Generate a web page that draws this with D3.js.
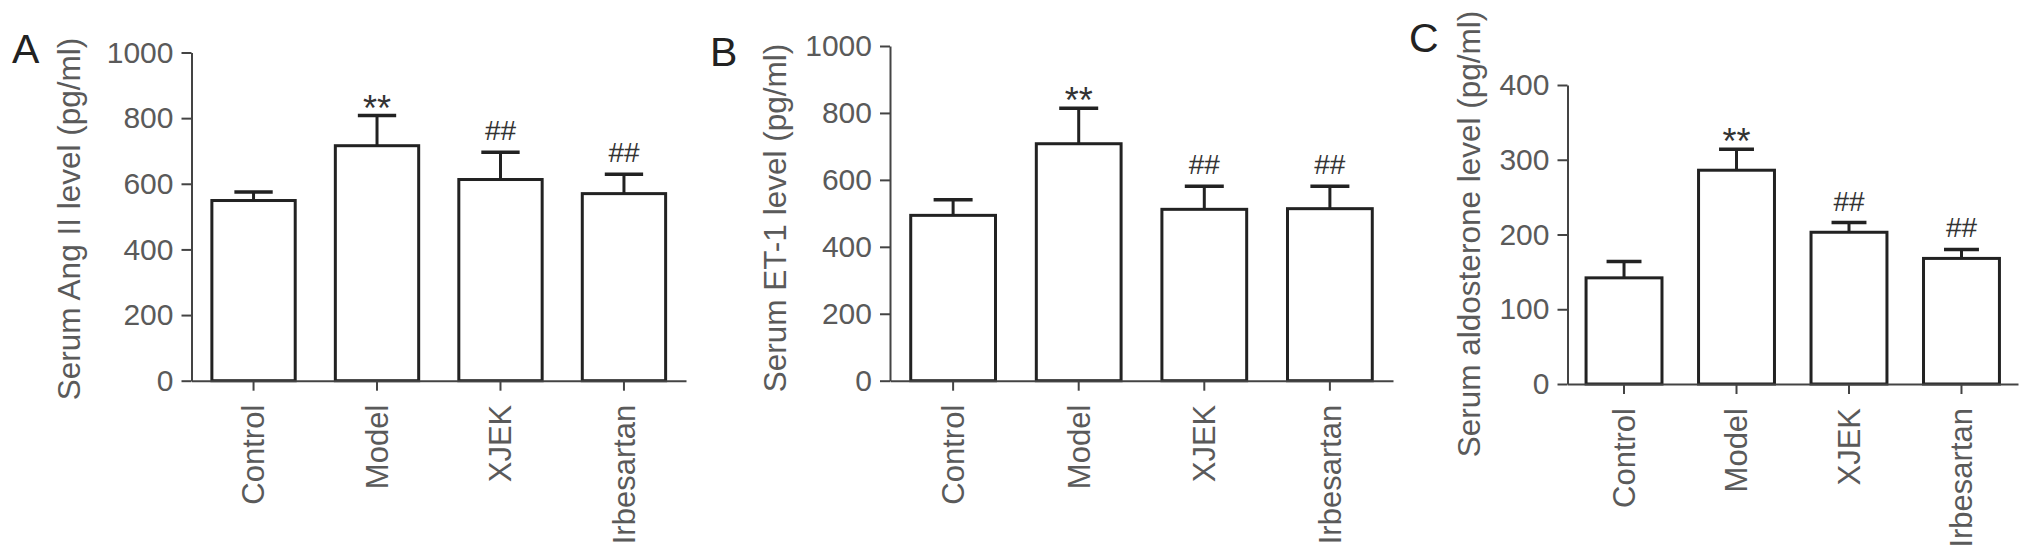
<!DOCTYPE html>
<html>
<head>
<meta charset="utf-8">
<title>Serum Ang II, ET-1 and aldosterone levels</title>
<script src="https://d3js.org/d3.v7.min.js"></script>
<style>
  body { margin: 0; background: #fff; }
  text { font-family: "Liberation Sans", Arial, sans-serif; }
  .axis path, .axis line { stroke: #444; stroke-width: 2; }
  .axis text { fill: #5a5a5a; font-size: 30px; }
</style>
</head>
<body>
<div id="chart"></div>
<script>
// groups on the x axis
var groups = ["Control", "Model", "XJEK", "Irbesartan"];
var marks = ["", "**", "##", "##"];

// panel A: serum Ang II (pg/ml)
var angMean = [549, 716, 613, 570];
var angSem  = [26, 92, 83, 59];
var angTicks = [0, 200, 400, 600, 800, 1000];

// panel B: serum ET-1 (pg/ml)
var etMean = [494, 708, 512, 514];
var etSem  = [47, 106, 69, 67];
var etTicks = [0, 200, 400, 600, 800, 1000];

// panel C: serum aldosterone (pg/ml)
var aldoMean = [142, 286, 203, 168];
var aldoSem  = [22, 28, 13, 12];
var aldoTicks = [0, 100, 200, 300, 400];

var svg = d3.select("#chart").append("svg")
  .attr("width", 2032)
  .attr("height", 558);

// layout of each panel (pixels)
var panels = [
  {letter: "A", mean: angMean, sem: angSem, ticks: angTicks, max: 1000,
   title: "Serum Ang II level (pg/ml)",
   x0: 191.5, x1: 686, y0: 380.7, y1: 52.5, titleX: 69, titleY: 219, letterX: 12, letterY: 63},
  {letter: "B", mean: etMean, sem: etSem, ticks: etTicks, max: 1000,
   title: "Serum ET-1 level (pg/ml)",
   x0: 890, x1: 1393, y0: 380.7, y1: 46, titleX: 775, titleY: 218, letterX: 710, letterY: 66},
  {letter: "C", mean: aldoMean, sem: aldoSem, ticks: aldoTicks, max: 400,
   title: "Serum aldosterone level (pg/ml)",
   x0: 1567.5, x1: 2018, y0: 384, y1: 85, titleX: 1469, titleY: 234, letterX: 1409, letterY: 52}
];

panels.forEach(function(p) {
  var g = svg.append("g");

  var x = d3.scaleBand()
    .domain(groups)
    .range([p.x0, p.x1])
    .paddingInner(0.325)
    .paddingOuter(0.165);

  var y = d3.scaleLinear()
    .domain([0, p.max])
    .range([p.y0, p.y1]);

  var rows = groups.map(function(d, i) {
    return {name: d, mean: p.mean[i], sem: p.sem[i], mark: marks[i]};
  });

  // bars
  g.selectAll(".bar").data(rows).enter().append("rect")
    .attr("class", "bar")
    .attr("x", function(d) { return x(d.name); })
    .attr("y", function(d) { return y(d.mean); })
    .attr("width", x.bandwidth())
    .attr("height", function(d) { return y(0) - y(d.mean); })
    .attr("fill", "#fff")
    .attr("stroke", "#222")
    .attr("stroke-width", 3);

  // upper error bars
  var capW = x.bandwidth() * 0.46;
  var err = g.selectAll(".err").data(rows).enter().append("g").attr("class", "err");
  err.append("line")
    .attr("x1", function(d) { return x(d.name) + x.bandwidth() / 2; })
    .attr("x2", function(d) { return x(d.name) + x.bandwidth() / 2; })
    .attr("y1", function(d) { return y(d.mean); })
    .attr("y2", function(d) { return y(d.mean + d.sem); })
    .attr("stroke", "#222").attr("stroke-width", 3);
  err.append("line")
    .attr("x1", function(d) { return x(d.name) + x.bandwidth() / 2 - capW / 2; })
    .attr("x2", function(d) { return x(d.name) + x.bandwidth() / 2 + capW / 2; })
    .attr("y1", function(d) { return y(d.mean + d.sem); })
    .attr("y2", function(d) { return y(d.mean + d.sem); })
    .attr("stroke", "#222").attr("stroke-width", 3.5);

  // significance marks
  g.selectAll(".mark").data(rows).enter().append("text")
    .attr("class", "mark")
    .attr("x", function(d) { return x(d.name) + x.bandwidth() / 2; })
    .attr("y", function(d) {
      return y(d.mean + d.sem) + (d.mark == "**" ? 5 : -12);
    })
    .attr("text-anchor", "middle")
    .attr("fill", "#333")
    .style("font-size", function(d) { return d.mark == "**" ? "36px" : "28px"; })
    .text(function(d) { return d.mark; });

  // y axis
  g.append("g")
    .attr("class", "axis")
    .attr("transform", "translate(" + p.x0 + ",0)")
    .call(d3.axisLeft(y).tickValues(p.ticks).tickFormat(d3.format("d"))
      .tickSize(10).tickSizeOuter(0).tickPadding(8));

  // x axis
  var xa = g.append("g")
    .attr("class", "axis")
    .attr("transform", "translate(0," + p.y0 + ")")
    .call(d3.axisBottom(x).tickSize(10).tickSizeOuter(0));
  xa.selectAll("text")
    .attr("transform", "rotate(-90)")
    .attr("text-anchor", "end")
    .attr("x", -24)
    .attr("y", 0)
    .attr("dy", "0.35em")
    .style("font-size", "31px");

  // y title
  g.append("text")
    .attr("transform", "translate(" + p.titleX + "," + p.titleY + ") rotate(-90)")
    .attr("text-anchor", "middle")
    .attr("dy", "0.35em")
    .attr("fill", "#5a5a5a")
    .style("font-size", "31.5px")
    .text(p.title);

  // panel letter
  g.append("text")
    .attr("x", p.letterX)
    .attr("y", p.letterY)
    .attr("fill", "#222")
    .style("font-size", "41px")
    .text(p.letter);
});
</script>
</body>
</html>
